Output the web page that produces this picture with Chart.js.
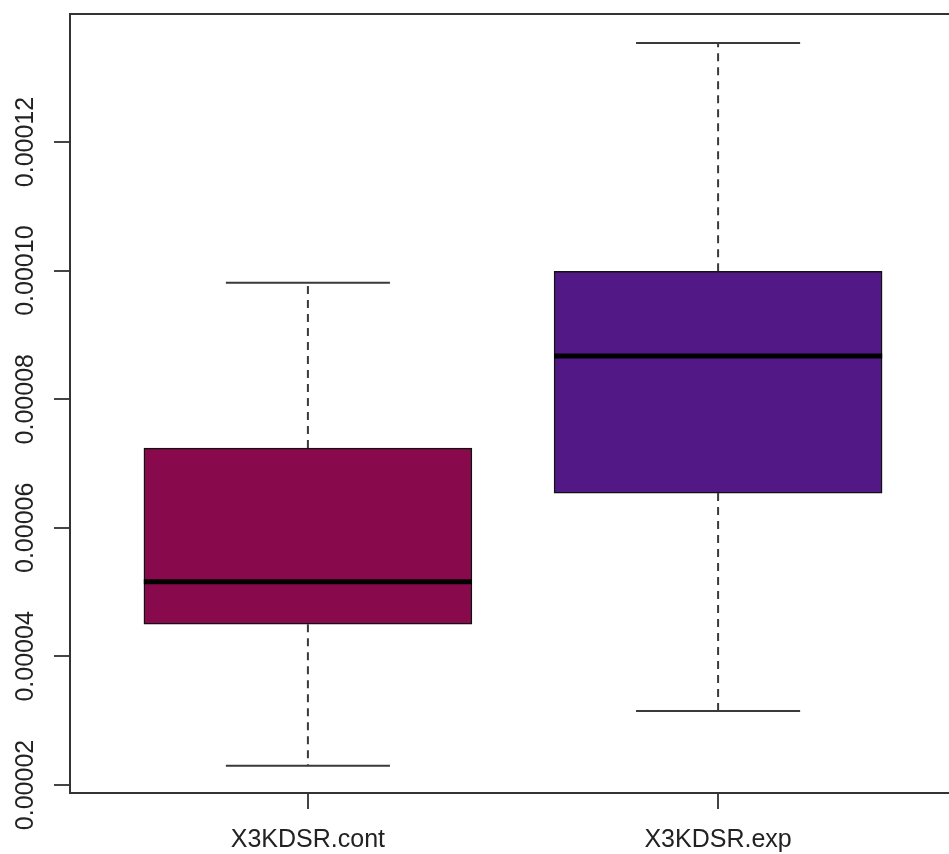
<!DOCTYPE html>
<html>
<head>
<meta charset="utf-8">
<script src="https://cdn.jsdelivr.net/npm/chart.js@4/dist/chart.umd.min.js"></script>
<style>
  html, body { margin: 0; padding: 0; background: #fff; overflow: hidden; }
  #wrap { width: 949px; height: 854px; overflow: hidden; }
  canvas { display: block; }
</style>
</head>
<body>
<div id="wrap"><canvas id="chart" width="957" height="854"></canvas></div>
<script>
const categories = ['X3KDSR.cont', 'X3KDSR.exp'];
const positions = [1, 2];
const whiskerLow = [0.0000230, 0.0000315];
const q1 = [0.0000450, 0.0000654];
const median = [0.0000516, 0.0000867];
const q3 = [0.0000724, 0.0000999];
const whiskerHigh = [0.0000981, 0.0001354];
const yTicks = [0.00002, 0.00004, 0.00006, 0.00008, 0.00010, 0.00012];
const boxColors = ['#880a4c', '#521886'];

const FONT = '"Liberation Sans", Arial, Helvetica, sans-serif';

const boxPlugin = {
  id: 'boxParts',
  afterDatasetsDraw(chart){
    const { ctx, scales: { x, y }, chartArea } = chart;
    const half = (x.getPixelForValue(1.4) - x.getPixelForValue(0.6)) / 2;
    ctx.save();
    positions.forEach((p, i) => {
      const cx = x.getPixelForValue(p);
      // whiskers
      ctx.strokeStyle = '#3a3a3a';
      ctx.lineWidth = 2;
      ctx.setLineDash([8, 6]);
      ctx.beginPath();
      ctx.moveTo(cx, y.getPixelForValue(q3[i]));
      ctx.lineTo(cx, y.getPixelForValue(whiskerHigh[i]));
      ctx.moveTo(cx, y.getPixelForValue(q1[i]));
      ctx.lineTo(cx, y.getPixelForValue(whiskerLow[i]));
      ctx.stroke();
      ctx.setLineDash([]);
      // staples
      ctx.beginPath();
      [whiskerHigh[i], whiskerLow[i]].forEach(v => {
        const py = y.getPixelForValue(v);
        ctx.moveTo(cx - half / 2, py);
        ctx.lineTo(cx + half / 2, py);
      });
      ctx.stroke();
      // median
      ctx.strokeStyle = '#000';
      ctx.lineWidth = 5;
      ctx.beginPath();
      const my = y.getPixelForValue(median[i]);
      ctx.moveTo(cx - half, my);
      ctx.lineTo(cx + half, my);
      ctx.stroke();
    });
    // plot frame
    ctx.strokeStyle = '#333';
    ctx.lineWidth = 2;
    ctx.strokeRect(chartArea.left, chartArea.top, chartArea.right - chartArea.left, chartArea.bottom - chartArea.top);
    // rotated y labels
    ctx.fillStyle = '#222';
    ctx.font = '25px ' + FONT;
    ctx.textAlign = 'center';
    ctx.textBaseline = 'alphabetic';
    y.ticks.forEach(t => {
      ctx.save();
      ctx.translate(33, y.getPixelForValue(t.value));
      ctx.rotate(-Math.PI / 2);
      ctx.fillText(t.value.toFixed(5), 0, 0);
      ctx.restore();
    });
    ctx.restore();
  }
};

new Chart(document.getElementById('chart'), {
  type: 'bar',
  data: {
    datasets: [{
      data: positions.map((p, i) => ({ x: p, y: [q1[i], q3[i]] })),
      backgroundColor: boxColors,
      borderColor: '#111',
      borderWidth: 1.5,
      borderSkipped: false,
      barThickness: 328
    }]
  },
  options: {
    responsive: false,
    animation: false,
    layout: { padding: { top: 14, right: 1, left: 0, bottom: 0 } },
    plugins: { legend: { display: false }, tooltip: { enabled: false } },
    scales: {
      x: {
        type: 'linear',
        min: 0.42,
        max: 2.58,
        offset: false,
        afterBuildTicks: s => { s.ticks = positions.map(v => ({ value: v })); },
        afterFit: s => { s.height = 61; },
        ticks: {
          callback: (v, i) => categories[i],
          font: { size: 25, family: FONT },
          color: '#222',
          padding: 16,
          maxRotation: 0,
          autoSkip: false
        },
        grid: { offset: false, drawOnChartArea: false, tickLength: 16, color: '#444', lineWidth: 2 },
        border: { display: false }
      },
      y: {
        min: 0.000018756,
        max: 0.000139907,
        afterBuildTicks: s => { s.ticks = yTicks.map(v => ({ value: v })); },
        afterFit: s => { s.width = 70; },
        ticks: { display: false },
        grid: { drawOnChartArea: false, tickLength: 16, color: '#444', lineWidth: 2 },
        border: { display: false }
      }
    }
  },
  plugins: [boxPlugin]
});
</script>
</body>
</html>
